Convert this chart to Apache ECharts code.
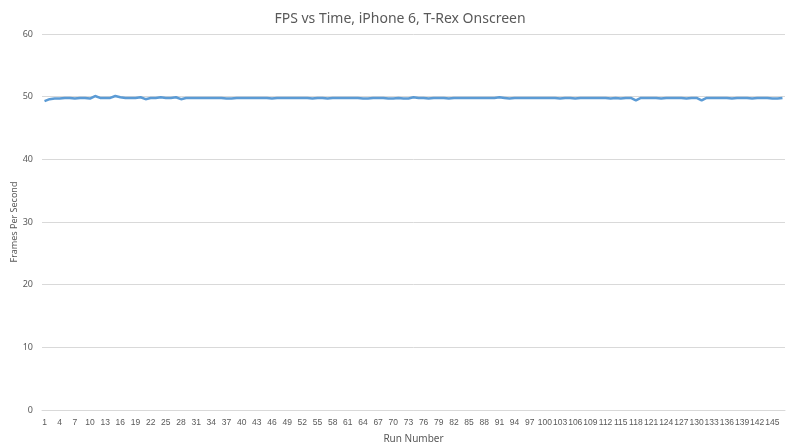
<!DOCTYPE html>
<html>
<head>
<meta charset="utf-8">
<script src="https://cdn.jsdelivr.net/npm/echarts@6/dist/echarts.min.js"></script>
<style>
  html, body { margin: 0; padding: 0; background: #fff; }
  #chart { width: 800px; height: 448px; }
</style>
</head>
<body>
<div id="chart"></div>
<script>
const titleText = 'FPS vs Time, iPhone 6, T-Rex Onscreen';
const yTicks = { min: 0, max: 60, step: 10 };

// run numbers 1..147
const runs = [];
for (let i = 1; i <= 147; i++) runs.push(String(i));

// fps readings
const fps = [
  49.3, 49.6, 49.7, 49.7, 49.8, 49.8, 49.7, 49.8, 49.8, 49.7,
  50.1, 49.8, 49.8, 49.8, 50.1, 49.9, 49.8, 49.8, 49.8, 49.9,
  49.6, 49.8, 49.8, 49.9, 49.8, 49.8, 49.9, 49.6, 49.8, 49.8,
  49.8, 49.8, 49.8, 49.8, 49.8, 49.8, 49.7, 49.7, 49.8, 49.8,
  49.8, 49.8, 49.8, 49.8, 49.8, 49.7, 49.8, 49.8, 49.8, 49.8,
  49.8, 49.8, 49.8, 49.7, 49.8, 49.8, 49.7, 49.8, 49.8, 49.8,
  49.8, 49.8, 49.8, 49.7, 49.7, 49.8, 49.8, 49.8, 49.7, 49.7,
  49.8, 49.7, 49.7, 49.9, 49.8, 49.8, 49.7, 49.8, 49.8, 49.8,
  49.7, 49.8, 49.8, 49.8, 49.8, 49.8, 49.8, 49.8, 49.8, 49.8,
  49.9, 49.8, 49.7, 49.8, 49.8, 49.8, 49.8, 49.8, 49.8, 49.8,
  49.8, 49.8, 49.7, 49.8, 49.8, 49.7, 49.8, 49.8, 49.8, 49.8,
  49.8, 49.8, 49.7, 49.8, 49.7, 49.8, 49.8, 49.4, 49.8, 49.8,
  49.8, 49.8, 49.7, 49.8, 49.8, 49.8, 49.8, 49.7, 49.8, 49.8,
  49.4, 49.8, 49.8, 49.8, 49.8, 49.8, 49.7, 49.8, 49.8, 49.8,
  49.7, 49.8, 49.8, 49.8, 49.7, 49.7, 49.8
];

const textColor = '#595959';
const fontFamily = 'Noto Sans, Liberation Sans, sans-serif';

const chart = echarts.init(document.getElementById('chart'), null, { renderer: 'canvas' });
chart.setOption({
  animation: false,
  backgroundColor: '#fff',
  title: {
    text: titleText,
    left: 'center',
    top: 7,
    textStyle: { color: textColor, fontSize: 14, fontWeight: 'normal', fontFamily }
  },
  grid: { left: 42, right: 15, top: 34, bottom: 38, containLabel: false, outerBoundsMode: 'none' },
  xAxis: {
    type: 'category',
    data: runs,
    boundaryGap: true,
    name: 'Run Number',
    nameLocation: 'middle',
    nameGap: 24,
    nameTextStyle: { color: textColor, fontSize: 10, fontFamily },
    axisLine: { lineStyle: { color: '#d9d9d9', width: 1 } },
    axisTick: { show: false },
    axisLabel: {
      interval: 2, color: textColor, fontSize: 8.5,
      fontFamily: 'Liberation Sans, sans-serif', margin: 8, hideOverlap: false
    }
  },
  yAxis: {
    type: 'value',
    min: yTicks.min,
    max: yTicks.max,
    interval: yTicks.step,
    name: 'Frames Per Second',
    nameLocation: 'middle',
    nameGap: 23,
    nameMoveOverlap: false,
    nameTextStyle: { color: textColor, fontSize: 9, fontFamily },
    axisLine: { show: false },
    axisTick: { show: false },
    axisLabel: { color: textColor, fontSize: 9, fontFamily, margin: 9 },
    splitLine: { lineStyle: { color: '#d9d9d9', width: 1 } }
  },
  series: [{
    type: 'line',
    data: fps,
    symbol: 'none',
    lineStyle: { color: '#5b9bd5', width: 2.5 },
    itemStyle: { color: '#5b9bd5' }
  }]
});
</script>
</body>
</html>
